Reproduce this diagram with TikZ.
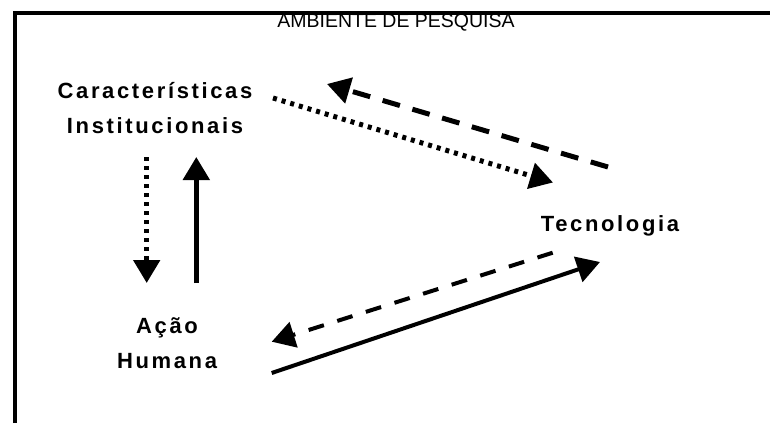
\documentclass[tikz,border=0pt]{standalone}
\usepackage{fontspec}
\setmainfont{Liberation Sans}
\newfontfamily\rotulo{Liberation Sans}[LetterSpace=12]
\usetikzlibrary{arrows.meta}
\tikzset{
rot/.style={font=\rotulo\bfseries\fontsize{22}{35}\selectfont,align=center,inner sep=0pt},
seta/.style={-{Triangle[length=23pt,width=26pt]},line width=5pt},
pontos/.style={seta,dash pattern=on 4pt off 5pt},
tracos/.style={seta,dash pattern=on 18pt off 13pt}}
\begin{document}
\begin{tikzpicture}[x=1pt,y=-1pt]
\useasboundingbox(0,0)rectangle(770,423);
\draw[line width=4pt](14.5,423)--(14.5,13)--(770,13);
\node[anchor=base,inner sep=0pt,font=\fontsize{19.5}{20}\selectfont](amb)at(396,27.7){AMBIENTE DE PESQUISA};
\node[rot,anchor=base](inst)at(155,133){Características\\Institucionais};
\node[rot,anchor=base](tec)at(610,231){Tecnologia};
\node[rot,anchor=base](acao)at(167,368){Ação\\Humana};
\coordinate(i1)at(273,98);\coordinate(t1)at(553,182.5);
\coordinate(t2)at(608,167);\coordinate(i2)at(327,84);
\coordinate(i3)at(146.7,157);\coordinate(h1)at(146.7,283);
\coordinate(h2)at(196.3,283);\coordinate(i4)at(196.3,157);
\coordinate(t3)at(552.7,252.7);\coordinate(h3)at(271.7,341.7);
\coordinate(h4)at(271.7,373);\coordinate(t4)at(600,262);
\draw[pontos](i1)--(t1);
\draw[tracos](t2)--(i2);
\draw[pontos](i3)--(h1);
\draw[seta](h2)--(i4);
\draw[tracos,line width=4pt,dash pattern=on 16pt off 14pt](t3)--(h3);
\draw[seta,line width=4pt](h4)--(t4);
\end{tikzpicture}
\end{document}
